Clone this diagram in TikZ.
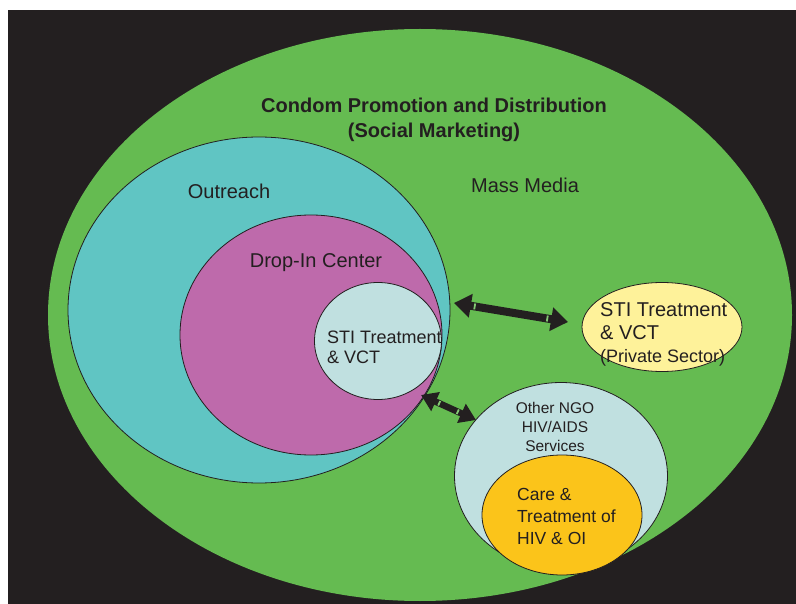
\documentclass[tikz,border=0pt]{standalone}
\usepackage{fontspec}
\setmainfont{Liberation Sans}
\usetikzlibrary{shapes.geometric,arrows.meta,calc}
\definecolor{bgblack}{RGB}{35,31,32}
\definecolor{massgreen}{RGB}{101,187,81}
\definecolor{outcyan}{RGB}{96,197,195}
\definecolor{dropmag}{RGB}{190,106,171}
\definecolor{stipale}{RGB}{192,224,224}
\definecolor{privyellow}{RGB}{254,242,154}
\definecolor{careorange}{RGB}{251,196,26}

\tikzset{
    blob/.style={ellipse, draw=bgblack, line width=0.8pt, inner sep=0pt},
    lbl/.style={text=bgblack, font=\fontsize{20}{23}\selectfont, inner sep=0pt},
    dblarrow/.style={{Triangle[length=17pt,width=23pt]}-{Triangle[length=17pt,width=23pt]}, line width=8pt, bgblack},
    slit/.style={massgreen!80!white, line width=1.8pt}
}

\begin{document}
\begin{tikzpicture}[x=1pt,y=-1pt]
\useasboundingbox (0,0) rectangle (796,604);
\fill[bgblack] (8,10) rectangle (796,604);

% nested ellipses
\node[blob, draw=none, fill=massgreen, minimum width=744pt, minimum height=572pt] (mass) at (420,315) {};
\node[blob, fill=outcyan, minimum width=382pt, minimum height=346pt] (outreach) at (259,310) {};
\node[blob, fill=dropmag, minimum width=262pt, minimum height=240pt] (dropin) at (311,335) {};
\node[blob, fill=stipale, minimum width=127pt, minimum height=117pt] (sti) at (378,341) {};
\node[blob, fill=privyellow, minimum width=160pt, minimum height=89pt] (private) at (662,327) {};
\node[blob, fill=stipale, minimum width=213pt, minimum height=187pt] (ngo) at (561,476) {};
\node[blob, fill=careorange, minimum width=160pt, minimum height=120pt] (care) at (562,515) {};

% labels
\node[lbl, font=\fontsize{20}{25}\selectfont\bfseries, align=center] (title) at (434,120) {Condom Promotion and Distribution\\(Social Marketing)};
\node[lbl] (masslbl) at (525,185) {Mass Media};
\node[lbl] (outlbl) at (229,191) {Outreach};
\node[lbl] (droplbl) at (316,263) {Drop-In Center};
\node[lbl, anchor=west, align=left, font=\fontsize{18}{20}\selectfont] (stilbl) at (327,347) {STI Treatment\\\& VCT};
\node[lbl, anchor=west, align=left] (privlbl) at (600,334)
    {STI Treatment\\\& VCT\\{\fontsize{18}{20}\selectfont (Private Sector)}};
\node[lbl, align=center, font=\fontsize{15.5}{19}\selectfont] (ngolbl) at (555,427) {Other NGO\\HIV/AIDS\\Services};
\node[lbl, anchor=west, align=left, font=\fontsize{17.5}{22}\selectfont] (carelbl) at (517,516) {Care \&\\Treatment of\\HIV \& OI};

% connectors
\coordinate (outR) at (454,303);
\coordinate (privL) at (568,322);
\coordinate (stiB) at (421,395);
\coordinate (ngoT) at (476,420);
\draw[dblarrow] (outR) -- (privL);
\draw[dblarrow, line width=6.5pt, {Triangle[length=16pt,width=20pt]}-{Triangle[length=16pt,width=20pt]}] (stiB) -- (ngoT);

% little slits behind the heads
\foreach \a/\b/\d/\h in {outR/privL/21pt/3pt, privL/outR/21pt/3pt, stiB/ngoT/20pt/2.5pt, ngoT/stiB/20pt/2.5pt}{
    \coordinate (s) at ($(\a)!\d!(\b)$);
    \draw[slit] ($(s)!\h!90:(\b)$) -- ($(s)!\h!-90:(\b)$);
}
\end{tikzpicture}
\end{document}
